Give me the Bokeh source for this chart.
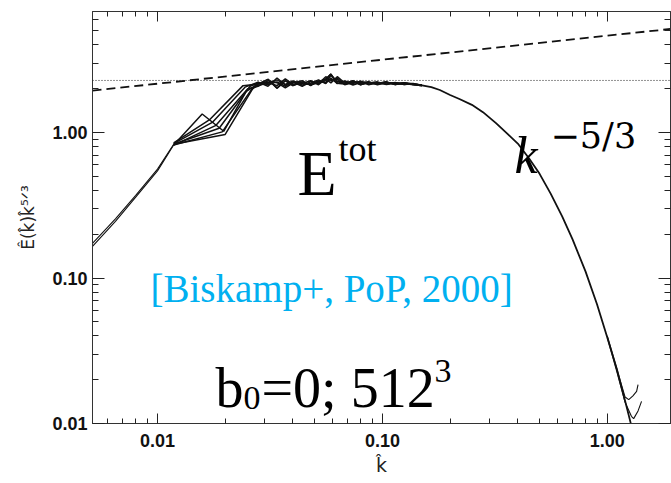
import math
from bokeh.plotting import figure
from bokeh.models import LogAxis, FixedTicker, Range1d, Span
from bokeh.core.properties import value
from bokeh.embed import file_html
from bokeh.resources import INLINE

# ---------------- data ----------------
# low-k rising branch: two nearly overlapping snapshots
k_rise = [0.00514, 0.0065, 0.008, 0.010, 0.0118]
e_rise_a = [0.173, 0.255, 0.37, 0.56, 0.83]
e_rise_b = [0.165, 0.245, 0.36, 0.545, 0.82]

# fan of snapshots between k~0.012 and k~0.027
k_fan_1 = [0.0118, 0.0158, 0.0197, 0.0248]
e_fan_1 = [0.82, 1.34, 1.02, 1.92]
k_fan_2 = [0.0118, 0.0176, 0.0245]
e_fan_2 = [0.84, 1.18, 2.05]
k_fan_3 = [0.0118, 0.0182, 0.0252]
e_fan_3 = [0.82, 1.12, 2.00]
k_fan_4 = [0.0118, 0.0188, 0.0258]
e_fan_4 = [0.83, 1.07, 2.08]
k_fan_5 = [0.0118, 0.0194, 0.0262]
e_fan_5 = [0.82, 1.01, 1.98]
k_fan_6 = [0.0118, 0.0200, 0.0266]
e_fan_6 = [0.83, 0.97, 2.02]
k_fan_7 = [0.0118, 0.0170, 0.0240]
e_fan_7 = [0.85, 1.22, 2.10]

# inertial-range plateau (several snapshots)
k_plat = [0.028, 0.031, 0.034, 0.037, 0.040, 0.044, 0.048, 0.052, 0.056, 0.059,
          0.063, 0.068, 0.074, 0.080, 0.087, 0.095, 0.104, 0.114, 0.125, 0.137, 0.15]
e_plat_1 = [2.15, 2.32, 2.02, 2.27, 2.10, 2.22, 2.13, 2.24, 2.32, 2.52, 2.18,
            2.16, 2.27, 2.13, 2.22, 2.16, 2.23, 2.14, 2.19, 2.14, 2.10]
e_plat_2 = [2.22, 2.08, 2.37, 2.12, 2.22, 2.08, 2.24, 2.16, 2.42, 2.26, 2.37,
            2.13, 2.21, 2.24, 2.13, 2.21, 2.15, 2.21, 2.14, 2.17, 2.11]
e_plat_3 = [2.08, 2.27, 2.20, 2.03, 2.19, 2.27, 2.10, 2.27, 2.19, 2.47, 2.25,
            2.23, 2.12, 2.21, 2.23, 2.13, 2.21, 2.17, 2.17, 2.13, 2.12]
e_plat_4 = [2.19, 2.21, 2.10, 2.34, 2.14, 2.17, 2.27, 2.13, 2.34, 2.19, 2.42,
            2.19, 2.23, 2.15, 2.19, 2.23, 2.14, 2.18, 2.20, 2.16, 2.11]
e_plat_5 = [2.11, 2.18, 2.30, 2.14, 2.26, 2.12, 2.18, 2.30, 2.17, 2.37, 2.17,
            2.26, 2.17, 2.25, 2.15, 2.19, 2.22, 2.14, 2.18, 2.15, 2.12]
e_plat_6 = [2.21, 2.14, 2.23, 2.08, 2.23, 2.21, 2.13, 2.20, 2.27, 2.31, 2.31,
            2.15, 2.23, 2.17, 2.21, 2.15, 2.19, 2.20, 2.14, 2.16, 2.11]

# dissipation range
k_decay = [0.15, 0.165, 0.18, 0.20, 0.22, 0.25, 0.28, 0.32, 0.36, 0.40, 0.45,
           0.50, 0.56, 0.63, 0.70, 0.80, 0.90, 1.00, 1.10, 1.20, 1.27, 1.30]
e_decay = [2.11, 2.05, 1.96, 1.81, 1.70, 1.55, 1.38, 1.16, 0.98, 0.84, 0.66,
           0.52, 0.38, 0.265, 0.185, 0.111, 0.066, 0.039, 0.024, 0.0143, 0.0101, 0.0088]

# two snapshots hooking up at the highest k
k_tail_1 = [1.00, 1.10, 1.20, 1.245, 1.30, 1.35, 1.37]
e_tail_1 = [0.040, 0.024, 0.0152, 0.0146, 0.0155, 0.0166, 0.0185]
k_tail_2 = [1.00, 1.10, 1.20, 1.28, 1.31, 1.37, 1.42]
e_tail_2 = [0.039, 0.023, 0.0140, 0.0112, 0.0108, 0.0122, 0.0142]

# reference lines
ref_level = 2.28                 # dotted horizontal
k_dash = [0.00514, 1.91]         # k^{-3/2} reference (compensated)
e_dash = [1.94, 5.15]

major_ticks = [0.01, 0.1, 1.0]
major_labels = ["0.01", "0.10", "1.00"]
x_minor = [0.006, 0.007, 0.008, 0.009, 0.02, 0.03, 0.04, 0.05, 0.06, 0.07, 0.08,
           0.09, 0.2, 0.3, 0.4, 0.5, 0.6, 0.7, 0.8, 0.9]
y_minor = [0.02, 0.03, 0.04, 0.05, 0.06, 0.07, 0.08, 0.09, 0.2, 0.3, 0.4, 0.5,
           0.6, 0.7, 0.8, 0.9, 2, 3, 4, 5, 6]

# ---------------- layout ----------------
W, H = 671, 483
X_MIN, X_MAX = 0.00514, 1.91
Y_MIN, Y_MAX = 0.01, 6.79
FL, FR, FT, FB = 92, 670, 11, 423


def at(xp, yp):
    """pixel position in the window -> data coordinates (for annotations)"""
    lx = math.log10(X_MIN) + (xp - FL) / (FR - FL) * (math.log10(X_MAX) - math.log10(X_MIN))
    ly = math.log10(Y_MIN) + (FB - yp) / (FB - FT) * (math.log10(Y_MAX) - math.log10(Y_MIN))
    return [10 ** lx], [10 ** ly]


p = figure(width=W, height=H, x_axis_type="log", y_axis_type="log",
           x_range=Range1d(X_MIN, X_MAX), y_range=Range1d(Y_MIN, Y_MAX),
           output_backend="svg", toolbar_location=None,
           min_border_left=FL, min_border_right=W - FR,
           min_border_top=FT, min_border_bottom=H - FB)
p.grid.visible = False
p.background_fill_color = "white"
p.border_fill_color = "white"
p.outline_line_color = "#333333"
p.outline_line_width = 1

overrides = {t: s for t, s in zip(major_ticks, major_labels)}

xa = p.xaxis[0]
xa.ticker = FixedTicker(ticks=major_ticks, minor_ticks=x_minor)
xa.major_label_overrides = overrides
ya = p.yaxis[0]
ya.ticker = FixedTicker(ticks=major_ticks, minor_ticks=y_minor)
ya.major_label_overrides = overrides

for ax, tin, tmin in ((xa, 10, 5), (ya, 12, 6)):
    ax.major_tick_in = tin
    ax.major_tick_out = 0
    ax.minor_tick_in = tmin
    ax.minor_tick_out = 0
    ax.axis_line_color = "#333333"
    ax.major_tick_line_color = "#222222"
    ax.minor_tick_line_color = "#222222"
    ax.major_label_text_font = "Liberation Sans"
    ax.major_label_text_font_style = "bold"
    ax.major_label_text_font_size = "18px"
    ax.major_label_text_color = "#111111"
    ax.axis_label_text_font = "DejaVu Sans"
    ax.axis_label_text_font_style = "normal"
    ax.axis_label_text_color = "#222222"

xa.axis_label = "k̂"
xa.axis_label_text_font_size = "19px"
xa.major_label_standoff = 10
xa.axis_label_standoff = 4
ya.axis_label = "Ê(k̂)k̂⁵ᐟ³"
ya.axis_label_text_font_size = "17px"
ya.major_label_standoff = 5
ya.axis_label_standoff = 11


def mirror_axis(minor, tin, tmin):
    return LogAxis(ticker=FixedTicker(ticks=major_ticks, minor_ticks=minor),
                   major_label_text_font_size="1px", major_label_text_alpha=0,
                   major_label_standoff=0,
                   major_tick_in=tin, major_tick_out=0, minor_tick_in=tmin, minor_tick_out=0,
                   axis_line_color="#333333", major_tick_line_color="#222222",
                   minor_tick_line_color="#222222")


p.add_layout(mirror_axis(x_minor, 10, 5), "above")
p.add_layout(mirror_axis(y_minor, 12, 6), "right")

# ---------------- reference lines ----------------
p.add_layout(Span(location=ref_level, dimension="width", line_color="#222222",
                  line_width=1, line_dash="1 2"))
p.line(k_dash, e_dash, line_color="#111111", line_width=1.8, line_dash="9 5")

# ---------------- spectra ----------------
LC = "#111111"
p.line(k_rise, e_rise_a, line_color=LC, line_width=1.1)
p.line(k_rise, e_rise_b, line_color=LC, line_width=1.1)

fans = [(k_fan_1, e_fan_1), (k_fan_2, e_fan_2), (k_fan_3, e_fan_3), (k_fan_4, e_fan_4),
        (k_fan_5, e_fan_5), (k_fan_6, e_fan_6), (k_fan_7, e_fan_7)]
plats = [e_plat_1, e_plat_2, e_plat_3, e_plat_4, e_plat_5, e_plat_6]
for i, (kf, ef) in enumerate(fans):
    ep = plats[i % len(plats)]
    p.line(kf + k_plat, ef + ep, line_color=LC, line_width=1.5)

p.line(k_decay, e_decay, line_color=LC, line_width=1.8)
p.line(k_tail_1, e_tail_1, line_color=LC, line_width=1.1)
p.line(k_tail_2, e_tail_2, line_color=LC, line_width=1.1)

# ---------------- annotations ----------------
SERIF = value("Liberation Serif")


def txt(xp, yp, s, size, font=SERIF, style="normal", color="#000000"):
    x, y = at(xp, yp)
    p.text(x=x, y=y, text=[s], text_font=font, text_font_size=size,
           text_font_style=style, text_color=color, text_align="left",
           text_baseline="alphabetic")


txt(297, 173, "E", "64px")
txt(338, 148, "tot", "36px")
txt(514, 155, "k", "52px", style="italic")
txt(550, 135, "−5/3", "35px", font=value("DejaVu Serif"))
txt(150, 288, "[Biskamp+, PoP, 2000]", "39px", color="#00B0F0")
txt(215, 387, "b", "56px")
txt(243, 397, "0", "34px")
txt(261, 387, "=0; 512", "56px")
txt(434, 370, "3", "34px")

open("out.html", "w").write(file_html(p, INLINE))
